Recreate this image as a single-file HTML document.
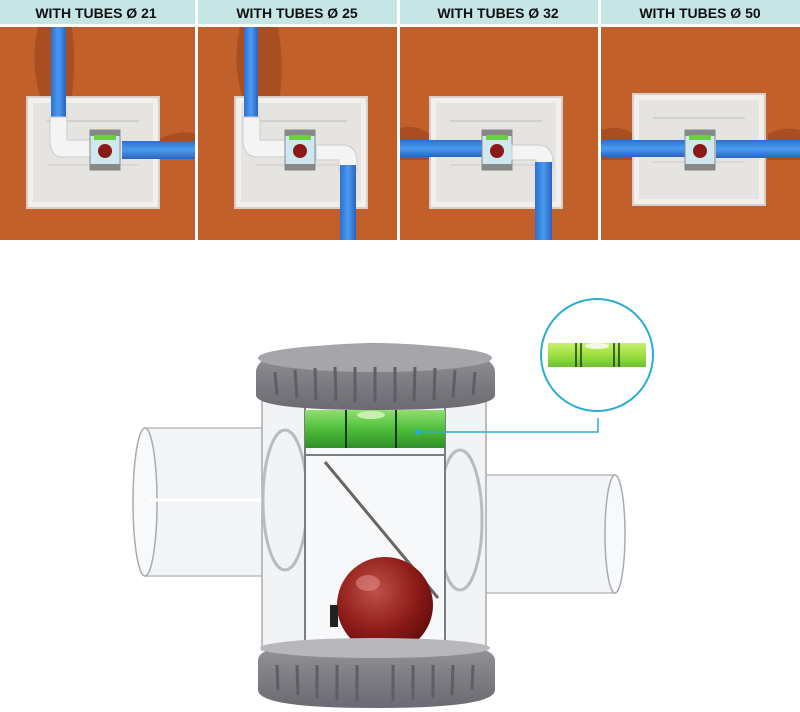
<!DOCTYPE html>
<html><head><meta charset="utf-8"><style>
html,body{margin:0;padding:0;background:#fff;width:800px;height:712px;overflow:hidden}
svg{display:block}
text{font-family:"Liberation Sans",sans-serif;font-weight:bold}
</style></head><body>
<svg width="800" height="712" viewBox="0 0 800 712" xmlns="http://www.w3.org/2000/svg">
<defs>
<linearGradient id="bv" x1="0" x2="1"><stop offset="0" stop-color="#2f6fd0"/><stop offset=".5" stop-color="#4a9cf0"/><stop offset="1" stop-color="#2a62c0"/></linearGradient>
<linearGradient id="bh" x1="0" y1="0" x2="0" y2="1"><stop offset="0" stop-color="#2f6fd0"/><stop offset=".5" stop-color="#4a9cf0"/><stop offset="1" stop-color="#2a62c0"/></linearGradient>
<radialGradient id="ball" cx=".4" cy=".35" r=".7"><stop offset="0" stop-color="#c0504a"/><stop offset=".6" stop-color="#8e1c18"/><stop offset="1" stop-color="#5e0c0a"/></radialGradient>
<linearGradient id="grn" x1="0" y1="0" x2="0" y2="1"><stop offset="0" stop-color="#8fe070"/><stop offset=".5" stop-color="#4fbe3a"/><stop offset="1" stop-color="#2e8e28"/></linearGradient>
<linearGradient id="lime" x1="0" y1="0" x2="0" y2="1"><stop offset="0" stop-color="#c8f070"/><stop offset=".5" stop-color="#9ee040"/><stop offset="1" stop-color="#6cc030"/></linearGradient>
<linearGradient id="gry" x1="0" y1="0" x2="0" y2="1"><stop offset="0" stop-color="#9a9a9e"/><stop offset=".5" stop-color="#808086"/><stop offset="1" stop-color="#6a6a70"/></linearGradient>
<g id="box">
<rect x="0" y="0" width="132" height="111" fill="#f2f0ec" stroke="#d8d0c8" stroke-width="2"/>
<rect x="6" y="6" width="120" height="99" fill="#e6e4e0"/>
<line x1="20" y1="24" x2="112" y2="24" stroke="#bbb"/>
<line x1="20" y1="68" x2="112" y2="68" stroke="#ccc"/>
</g>
<g id="dev">
<rect x="0" y="0" width="30" height="40" fill="#cfe8ef" stroke="#888"/>
<rect x="0" y="0" width="30" height="6" fill="#888"/>
<rect x="0" y="34" width="30" height="6" fill="#888"/>
<rect x="4" y="5" width="22" height="5" fill="#6ad040"/>
<circle cx="15" cy="21" r="7" fill="#8a1a1a"/>
</g>
</defs>
<rect x="0" y="0" width="800" height="240" fill="#fff"/>
<rect x="0" y="0" width="195" height="24" fill="#c6e6e6"/>
<rect x="198" y="0" width="199" height="24" fill="#c6e6e6"/>
<rect x="400" y="0" width="198" height="24" fill="#c6e6e6"/>
<rect x="601" y="0" width="199" height="24" fill="#c6e6e6"/>
<g font-size="14" fill="#111" text-anchor="middle">
<text x="96" y="18">WITH TUBES Ø 21</text>
<text x="297" y="18">WITH TUBES Ø 25</text>
<text x="498" y="18">WITH TUBES Ø 32</text>
<text x="700" y="18">WITH TUBES Ø 50</text>
</g>
<rect x="0" y="27" width="195" height="213" fill="#c1602a"/>
<rect x="198" y="27" width="199" height="213" fill="#c1602a"/>
<rect x="400" y="27" width="198" height="213" fill="#c1602a"/>
<rect x="601" y="27" width="199" height="213" fill="#c1602a"/>
<path d="M38 27 Q30 60 40 97 L72 97 Q76 60 72 27Z" fill="#a84e20"/>
<path d="M240 27 Q232 60 242 97 L280 97 Q284 60 278 27Z" fill="#a84e20"/>
<path d="M158 140 Q175 130 195 133 L195 158 L158 158Z" fill="#a84e20"/>
<path d="M400 128 Q415 124 430 134 L430 160 L400 160Z" fill="#a84e20"/>
<path d="M601 130 Q620 124 633 134 L633 160 L601 160Z" fill="#a84e20"/>
<path d="M768 134 Q785 126 800 130 L800 160 L768 160Z" fill="#a84e20"/>
<use href="#box" x="27" y="97"/>
<rect x="51" y="27" width="15" height="92" fill="url(#bv)"/>
<path d="M50 117 L67 117 L67 140 L92 140 L92 157 L60 157 Q50 155 50 140Z" fill="#f4f4f4" stroke="#ccc"/>
<use href="#dev" x="90" y="130"/>
<rect x="122" y="141" width="73" height="18" fill="url(#bh)"/>
<use href="#box" x="235" y="97"/>
<rect x="244" y="27" width="14" height="92" fill="url(#bv)"/>
<path d="M243 117 L260 117 L260 140 L287 140 L287 157 L255 157 Q243 155 243 140Z" fill="#f4f4f4" stroke="#ccc"/>
<use href="#dev" x="285" y="130"/>
<path d="M316 145 L345 145 Q357 147 357 162 L357 170 L339 170 L339 160 L316 160Z" fill="#f4f4f4" stroke="#ccc"/>
<rect x="340" y="165" width="16" height="75" fill="url(#bv)"/>
<use href="#box" x="430" y="97"/>
<rect x="400" y="140" width="84" height="17" fill="url(#bh)"/>
<use href="#dev" x="482" y="130"/>
<path d="M512 145 L540 145 Q553 147 553 162 L553 168 L536 168 L536 160 L512 160Z" fill="#f4f4f4" stroke="#ccc"/>
<rect x="535" y="162" width="17" height="78" fill="url(#bv)"/>
<use href="#box" x="633" y="94"/>
<rect x="601" y="140" width="86" height="17" fill="url(#bh)"/>
<use href="#dev" x="685" y="130"/>
<rect x="716" y="140" width="84" height="18" fill="url(#bh)"/>
<rect x="145" y="428" width="125" height="148" fill="#f3f4f5" stroke="#b8bcc0" stroke-width="1.5"/>
<ellipse cx="145" cy="502" rx="12" ry="74" fill="#f8f9fa" stroke="#a8acb0" stroke-width="1.5"/>
<line x1="150" y1="500" x2="265" y2="500" stroke="#fff" stroke-width="3"/>
<rect x="480" y="475" width="135" height="118" fill="#f3f4f5" stroke="#b8bcc0" stroke-width="1.5"/>
<ellipse cx="615" cy="534" rx="10" ry="59" fill="#f8f9fa" stroke="#a8acb0" stroke-width="1.5"/>
<rect x="262" y="395" width="224" height="255" fill="#f2f3f4" stroke="#a8acb0" stroke-width="1.5"/>
<ellipse cx="285" cy="500" rx="22" ry="70" fill="none" stroke="#b8bcc0" stroke-width="3"/>
<ellipse cx="460" cy="520" rx="22" ry="70" fill="none" stroke="#b8bcc0" stroke-width="3"/>
<rect x="305" y="400" width="140" height="250" fill="#f7f8f9" stroke="#7a7e82" stroke-width="2"/>
<line x1="305" y1="455" x2="445" y2="455" stroke="#7a7e82" stroke-width="2"/>
<line x1="325" y1="462" x2="438" y2="598" stroke="#666" stroke-width="3"/>
<rect x="305" y="410" width="140" height="38" fill="url(#grn)"/>
<line x1="346" y1="410" x2="346" y2="448" stroke="#1a3a1a" stroke-width="2"/>
<line x1="396" y1="410" x2="396" y2="448" stroke="#1a3a1a" stroke-width="2"/>
<ellipse cx="371" cy="415" rx="14" ry="4" fill="#c8f0b0"/>
<circle cx="385" cy="605" r="48" fill="url(#ball)"/>
<ellipse cx="368" cy="583" rx="12" ry="8" fill="#e08a86" opacity=".6"/>
<rect x="330" y="605" width="8" height="22" fill="#222"/>
<path d="M256 372 Q256 345 375 343 Q495 345 495 372 L495 395 Q495 410 375 410 Q256 410 256 395Z" fill="url(#gry)"/>
<ellipse cx="375" cy="358" rx="117" ry="14" fill="#a6a6aa"/>
<g stroke="#5e5e64" stroke-width="3">
<line x1="275" y1="372" x2="277" y2="395"/><line x1="295" y1="370" x2="297" y2="398"/><line x1="315" y1="368" x2="316" y2="400"/><line x1="335" y1="367" x2="336" y2="401"/><line x1="355" y1="367" x2="355" y2="402"/><line x1="375" y1="367" x2="375" y2="402"/><line x1="395" y1="367" x2="395" y2="402"/><line x1="415" y1="367" x2="414" y2="401"/><line x1="435" y1="368" x2="434" y2="400"/><line x1="455" y1="370" x2="453" y2="398"/><line x1="475" y1="372" x2="473" y2="395"/>
</g>
<path d="M258 660 Q258 640 375 638 Q495 640 495 660 L495 690 Q495 708 375 708 Q258 708 258 690Z" fill="url(#gry)"/>
<ellipse cx="375" cy="648" rx="115" ry="10" fill="#b8b8bc"/>
<g stroke="#5e5e64" stroke-width="3">
<line x1="277" y1="665" x2="278" y2="690"/><line x1="297" y1="665" x2="298" y2="695"/><line x1="317" y1="665" x2="317" y2="698"/><line x1="337" y1="665" x2="337" y2="700"/><line x1="357" y1="665" x2="357" y2="701"/><line x1="393" y1="665" x2="393" y2="701"/><line x1="413" y1="665" x2="413" y2="700"/><line x1="433" y1="665" x2="433" y2="698"/><line x1="453" y1="665" x2="452" y2="695"/><line x1="473" y1="665" x2="472" y2="690"/>
</g>
<polyline points="418,432 598,432 598,418" fill="none" stroke="#2aaed0" stroke-width="1.5"/>
<circle cx="418" cy="432" r="3" fill="#2aaed0"/>
<circle cx="597" cy="355" r="56" fill="#fff" stroke="#2aaed0" stroke-width="2"/>
<rect x="548" y="343" width="98" height="24" fill="url(#lime)"/>
<line x1="576" y1="343" x2="576" y2="367" stroke="#1a3a1a" stroke-width="1.5"/>
<line x1="581" y1="343" x2="581" y2="367" stroke="#1a3a1a" stroke-width="1.5"/>
<line x1="614" y1="343" x2="614" y2="367" stroke="#1a3a1a" stroke-width="1.5"/>
<line x1="619" y1="343" x2="619" y2="367" stroke="#1a3a1a" stroke-width="1.5"/>
<ellipse cx="597" cy="346" rx="12" ry="3" fill="#f0fae0"/>
</svg>
</body></html>
